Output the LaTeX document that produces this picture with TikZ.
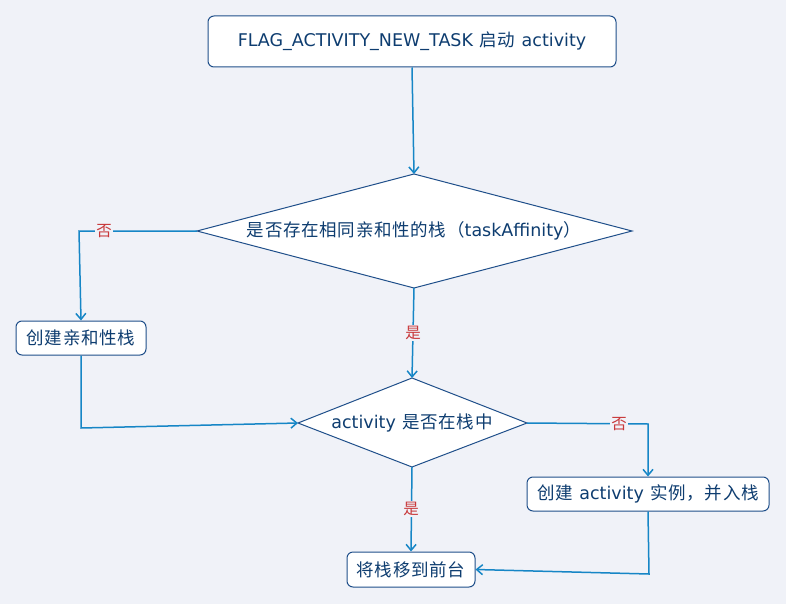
\documentclass[tikz,border=0pt]{standalone}
\usepackage{fontspec}
\setmainfont{DejaVu Sans}
\newfontfamily\cjk[LetterSpace=4]{Noto Sans CJK SC}
\usetikzlibrary{arrows.meta,shapes.geometric}
\definecolor{bgc}{HTML}{F0F2F8}
\definecolor{boxline}{HTML}{1F4F8A}
\definecolor{txt}{HTML}{0E3D70}
\definecolor{arr}{HTML}{1686C6}
\definecolor{lbl}{HTML}{C8383A}
\newcommand{\fs}{\fontsize{17.5}{20}\selectfont}
\newcommand{\gapsp}{\hspace{6.5pt}}
\tikzset{
  x=1pt,y=-1pt,
  box/.style={draw=boxline,line width=1pt,fill=white,rounded corners=6pt,text=txt,font=\fs,inner sep=0pt},
  dshape/.style={draw=boxline,line width=1pt,fill=white},
  dtext/.style={text=txt,font=\fs,inner sep=0pt},
  conn/.style={draw=arr,line width=1.5pt,-{Straight Barb[length=6pt,width=10pt,line width=1.5pt]}},
  lab/.style={fill=bgc,text=lbl,font=\cjk\fontsize{15.5}{17}\selectfont,inner sep=1.5pt}
}
\begin{document}
\begin{tikzpicture}
\fill[bgc] (0,0) rectangle (786,604);
\useasboundingbox (0,0) rectangle (786,604);
% nodes
\node[box,minimum width=408pt,minimum height=51pt] (start) at (412,41.5) {FLAG\_ACTIVITY\_NEW\_TASK\gapsp{\cjk 启动}\gapsp activity};
\draw[dshape] (197,231) -- (414,174) -- (632,231) -- (414,288) -- cycle;
\node[dtext] (d1) at (414,231) {{\cjk 是否存在相同亲和性的栈（}taskAffinity{\cjk ）}};
\coordinate (d1l) at (197,231);
\coordinate (d1t) at (414,174);
\coordinate (d1b) at (414,288);
\node[box,minimum width=130pt,minimum height=34pt] (mk) at (81,338) {\cjk 创建亲和性栈};
\draw[dshape] (298,423) -- (412,378) -- (527,423) -- (412,467) -- cycle;
\node[dtext] (d2) at (412,423) {activity\gapsp{\cjk 是否在栈中}};
\coordinate (d2l) at (298,423);
\coordinate (d2r) at (527,423);
\coordinate (d2t) at (412,378);
\coordinate (d2b) at (412,467);
\node[box,minimum width=242pt,minimum height=34pt] (ci) at (648,494) {{\cjk 创建}\gapsp activity\gapsp{\cjk 实例，并入栈}};
\node[box,minimum width=128pt,minimum height=35pt] (fg) at (411,569.5) {\cjk 将栈移到前台};
% connectors
\draw[conn] (start.south) -- (d1t);
\draw[conn] (d1l) -- (79,231) -- (mk.north);
\node[lab] at (104,231) {否};
\draw[conn] (d1b) -- (d2t);
\node[lab] at (413,333) {是};
\draw[conn] (mk.south) -- (81,428) -- (d2l);
\draw[conn] (d2r) -- (648,424) -- (ci.north);
\node[lab] at (619,424) {否};
\draw[conn] (d2b) -- (fg.north);
\node[lab] at (411,509) {是};
\draw[conn] (ci.south) -- (649,574) -- (fg.east);
\end{tikzpicture}
\end{document}
